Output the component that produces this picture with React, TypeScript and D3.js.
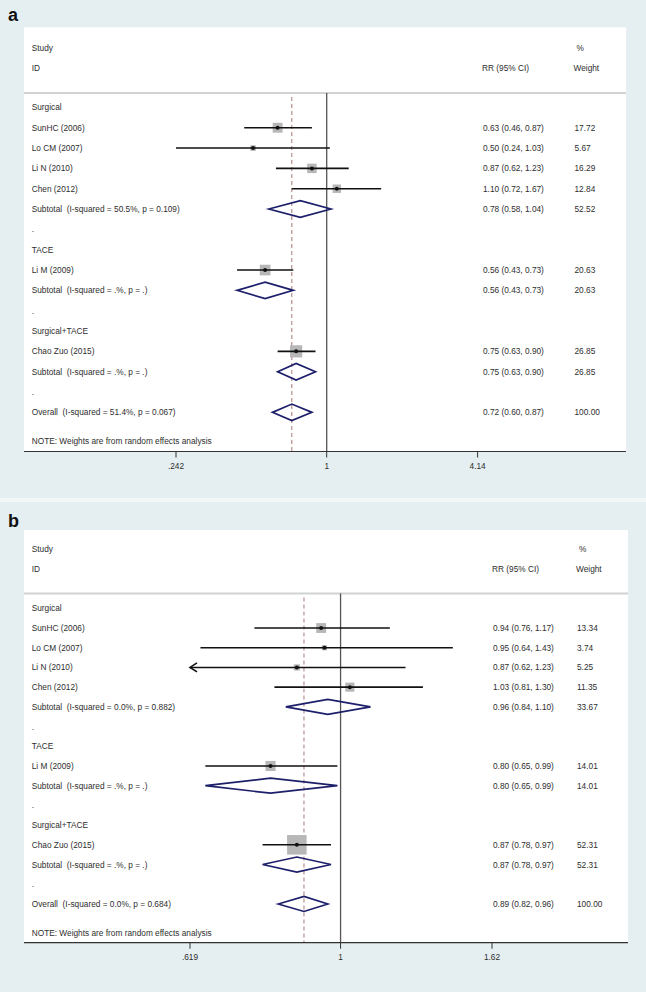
import React from "react";
import * as d3 from "d3";

// ---------- data ----------
const groupNames = ["Surgical", "TACE", "Surgical+TACE"];
const studyNames = ["SunHC (2006)", "Lo CM (2007)", "Li N (2010)", "Chen (2012)", "Li M (2009)", "Chao Zuo (2015)"];
const studyGroup = [0, 0, 0, 0, 1, 2];

// panel a
const aRR = [0.63, 0.5, 0.87, 1.1, 0.56, 0.75];
const aLo = [0.46, 0.24, 0.62, 0.72, 0.43, 0.63];
const aHi = [0.87, 1.03, 1.23, 1.67, 0.73, 0.9];
const aWeight = [17.72, 5.67, 16.29, 12.84, 20.63, 26.85];
const aArrowLeft = [false, false, false, false, false, false];
const aSubRR = [0.78, 0.56, 0.75];
const aSubLo = [0.58, 0.43, 0.63];
const aSubHi = [1.04, 0.73, 0.9];
const aSubW = [52.52, 20.63, 26.85];
const aSubHet = ["I-squared = 50.5%, p = 0.109", "I-squared = .%, p = .", "I-squared = .%, p = ."];
const aOverall = [0.72, 0.6, 0.87];
const aOverallHet = "I-squared = 51.4%, p = 0.067";
const aTicks = [0.242, 1, 4.14];
const aTickLabels = [".242", "1", "4.14"];

// panel b
const bRR = [0.94, 0.95, 0.87, 1.03, 0.8, 0.87];
const bLo = [0.76, 0.64, 0.62, 0.81, 0.65, 0.78];
const bHi = [1.17, 1.43, 1.23, 1.3, 0.99, 0.97];
const bWeight = [13.34, 3.74, 5.25, 11.35, 14.01, 52.31];
const bArrowLeft = [false, false, true, false, false, false];
const bSubRR = [0.96, 0.8, 0.87];
const bSubLo = [0.84, 0.65, 0.78];
const bSubHi = [1.1, 0.99, 0.97];
const bSubW = [33.67, 14.01, 52.31];
const bSubHet = ["I-squared = 0.0%, p = 0.882", "I-squared = .%, p = .", "I-squared = .%, p = ."];
const bOverall = [0.89, 0.82, 0.96];
const bOverallHet = "I-squared = 0.0%, p = 0.684";
const bTicks = [0.619, 1, 1.62];
const bTickLabels = [".619", "1", "1.62"];

const datasets = [
  { rr: aRR, lo: aLo, hi: aHi, w: aWeight, arrow: aArrowLeft, srr: aSubRR, slo: aSubLo, shi: aSubHi, sw: aSubW, shet: aSubHet, ov: aOverall, ovHet: aOverallHet, ticks: aTicks, tickLabels: aTickLabels },
  { rr: bRR, lo: bLo, hi: bHi, w: bWeight, arrow: bArrowLeft, srr: bSubRR, slo: bSubLo, shi: bSubHi, sw: bSubW, shet: bSubHet, ov: bOverall, ovHet: bOverallHet, ticks: bTicks, tickLabels: bTickLabels },
];

// ---------- layout ----------
const layouts = [
  { label: "a", bgTop: 0, bgBottom: 498, labelY: 21, left: 24, right: 626, top: 27.3, studyY: 48, idY: 68, sepY: 93, row0: 107.4, step: 20.33, noteY: 441, axisY: 451.5, plot: [176, 477.6], rrX: 483, wX: 574.5, boxK: 2.35, dh: 8.3 },
  { label: "b", bgTop: 502, bgBottom: 992, labelY: 527, left: 24, right: 628, top: 530, studyY: 549.3, idY: 569.3, sepY: 593.5, row0: 608.3, step: 19.71, noteY: 933, axisY: 942.7, plot: [190, 492], rrX: 493, wX: 577, boxK: 2.7, dh: 7.5 },
];

const FONT = "'Liberation Sans', Arial, Helvetica, sans-serif";
const TEXT = "#2e2e2e";
const FS = 8.3;
const f2 = d3.format(".2f");
const BG = "#e5eef1";
const NAVY = "#1d1f6b";

type Row =
  | { kind: "group"; text: string }
  | { kind: "study"; i: number }
  | { kind: "sub"; g: number }
  | { kind: "dot" }
  | { kind: "overall" };

function buildRows(): Row[] {
  const rows: Row[] = [];
  groupNames.forEach((g, gi) => {
    rows.push({ kind: "group", text: g });
    studyNames.forEach((_, i) => {
      if (studyGroup[i] === gi) rows.push({ kind: "study", i });
    });
    rows.push({ kind: "sub", g: gi });
    rows.push({ kind: "dot" });
  });
  rows.push({ kind: "overall" });
  return rows;
}

function Panel({ L, D }: { L: any; D: any }) {
  const x = d3.scaleLog().domain([D.ticks[0], D.ticks[D.ticks.length - 1]]).range(L.plot);
  const rows = buildRows();
  const yOf = (k: number) => L.row0 + k * L.step;
  const xMin = D.ticks[0];
  const xMax = D.ticks[D.ticks.length - 1];
  const txt = (s: string, tx: number, ty: number, extra: any = {}) => (
    <text x={tx} y={ty} fontFamily={FONT} fontSize={FS} fill={TEXT} dominantBaseline="central" style={{ whiteSpace: "pre" }} {...extra}>
      {s}
    </text>
  );
  const diamond = (rr: number, lo: number, hi: number, cy: number) => {
    const p = d3.path();
    p.moveTo(x(lo), cy);
    p.lineTo(x(rr), cy - L.dh);
    p.lineTo(x(hi), cy);
    p.lineTo(x(rr), cy + L.dh);
    p.closePath();
    return <path d={p.toString()} fill="none" stroke={NAVY} strokeWidth={1.7} strokeLinejoin="miter" />;
  };

  const marks: any[] = [];
  const texts: any[] = [];
  rows.forEach((r, k) => {
    const cy = yOf(k);
    if (r.kind === "group") {
      texts.push(<g key={"t" + k}>{txt(r.text, 31.7, cy)}</g>);
    } else if (r.kind === "dot") {
      texts.push(<g key={"t" + k}>{txt(".", 31.7, cy)}</g>);
    } else if (r.kind === "study") {
      const i = r.i;
      const s = L.boxK * Math.sqrt(D.w[i]);
      const lo = D.arrow[i] ? xMin : Math.max(D.lo[i], xMin);
      const hi = Math.min(D.hi[i], xMax);
      marks.push(
        <g key={"m" + k}>
          <rect x={x(D.rr[i]) - s / 2} y={cy - s / 2} width={s} height={s} fill="#b7b7b7" />
          <line x1={x(lo)} x2={x(hi)} y1={cy} y2={cy} stroke="#111" strokeWidth={1.6} />
          {D.arrow[i] && (
            <path d={`M${x(xMin) + 7},${cy - 4.5} L${x(xMin)},${cy} L${x(xMin) + 7},${cy + 4.5}`} fill="none" stroke="#111" strokeWidth={1.6} />
          )}
          <circle cx={x(D.rr[i])} cy={cy} r={2} fill="#111" />
        </g>
      );
      texts.push(
        <g key={"t" + k}>
          {txt(studyNames[i], 31.7, cy)}
          {txt(`${f2(D.rr[i])} (${f2(D.lo[i])}, ${f2(D.hi[i])})`, L.rrX, cy)}
          {txt(f2(D.w[i]), L.wX, cy)}
        </g>
      );
    } else if (r.kind === "sub") {
      const g = r.g;
      marks.push(<g key={"m" + k}>{diamond(D.srr[g], D.slo[g], D.shi[g], cy)}</g>);
      texts.push(
        <g key={"t" + k}>
          {txt(`Subtotal  (${D.shet[g]})`, 31.7, cy)}
          {txt(`${f2(D.srr[g])} (${f2(D.slo[g])}, ${f2(D.shi[g])})`, L.rrX, cy)}
          {txt(f2(D.sw[g]), L.wX, cy)}
        </g>
      );
    } else if (r.kind === "overall") {
      marks.push(<g key={"m" + k}>{diamond(D.ov[0], D.ov[1], D.ov[2], cy)}</g>);
      texts.push(
        <g key={"t" + k}>
          {txt(`Overall  (${D.ovHet})`, 31.7, cy)}
          {txt(`${f2(D.ov[0])} (${f2(D.ov[1])}, ${f2(D.ov[2])})`, L.rrX, cy)}
          {txt(f2(100), L.wX, cy)}
        </g>
      );
    }
  });

  return (
    <g>
      <rect x={0} y={L.bgTop} width={646} height={L.bgBottom - L.bgTop} fill={BG} />
      <text x={8} y={L.labelY} fontFamily={FONT} fontWeight="bold" fontSize={18} fill="#111">
        {L.label}
      </text>
      <rect x={L.left} y={L.top} width={L.right - L.left} height={L.axisY - L.top} fill="#fff" />
      {txt("Study", 31.7, L.studyY)}
      {txt("ID", 31.7, L.idY)}
      {txt("RR (95% CI)", L.rrX - 1, L.idY)}
      {txt("%", L.wX + 2, L.studyY)}
      {txt("Weight", L.wX - 1, L.idY)}
      <line x1={L.left} x2={L.right} y1={L.sepY} y2={L.sepY} stroke="#d2d2d2" strokeWidth={2} />
      {/* null line */}
      <line x1={x(1)} x2={x(1)} y1={L.sepY} y2={L.axisY} stroke="#555" strokeWidth={1.3} />
      {/* overall dashed line */}
      <line x1={x(D.ov[0])} x2={x(D.ov[0])} y1={L.sepY + 4} y2={L.axisY} stroke="#a87a7a" strokeWidth={1} strokeDasharray="4,3" />
      {marks}
      {texts}
      {txt("NOTE: Weights are from random effects analysis", 31.7, L.noteY)}
      {/* axis */}
      <line x1={L.left} x2={L.right} y1={L.axisY} y2={L.axisY} stroke="#333" strokeWidth={1.2} />
      {D.ticks.map((t: number, i: number) => (
        <g key={"tk" + i}>
          <line x1={x(t)} x2={x(t)} y1={L.axisY} y2={L.axisY + 6} stroke="#333" strokeWidth={1} />
          <text x={x(t)} y={L.axisY + 14} fontFamily={FONT} fontSize={FS} fill={TEXT} textAnchor="middle" dominantBaseline="central">
            {D.tickLabels[i]}
          </text>
        </g>
      ))}
    </g>
  );
}

export default function App() {
  return (
    <svg width={646} height={992} style={{ position: "absolute", left: 0, top: 0, background: "#f3f7f8" }}>
      <rect x={0} y={0} width={646} height={992} fill="#f3f7f8" />
      {layouts.map((L, i) => (
        <Panel key={i} L={L} D={datasets[i]} />
      ))}
    </svg>
  );
}
